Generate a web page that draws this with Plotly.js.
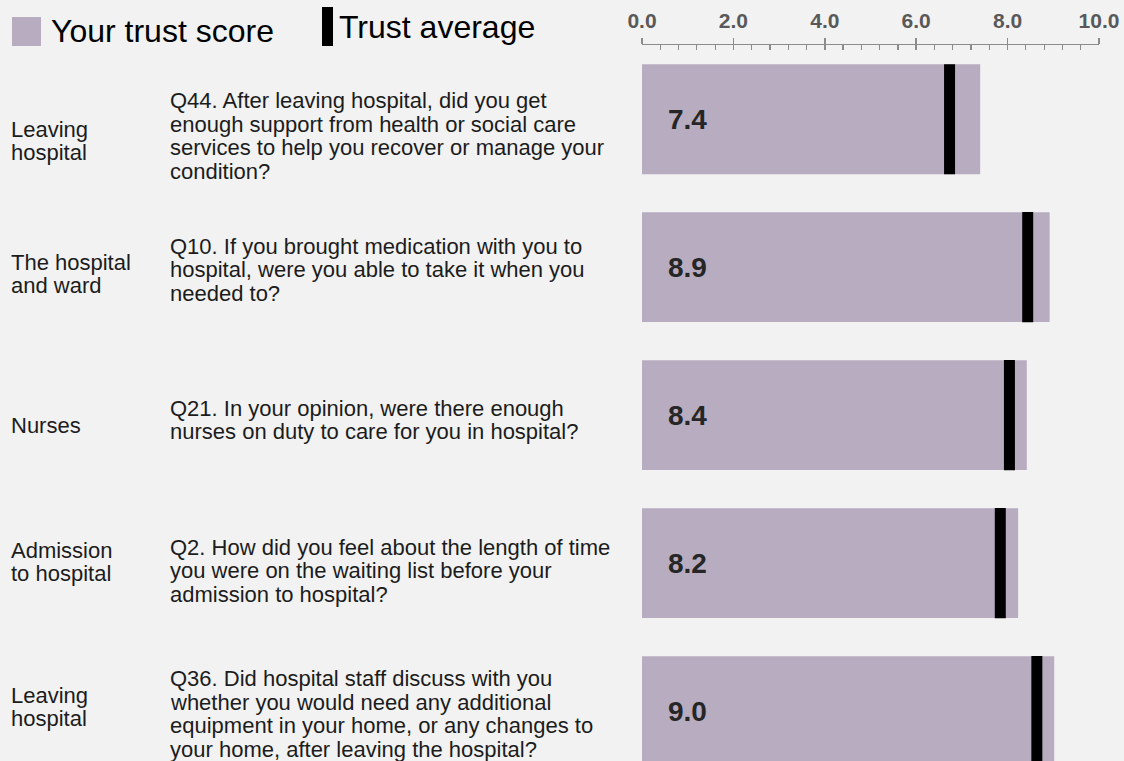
<!DOCTYPE html>
<html>
<head>
<meta charset="utf-8">
<script src="https://cdn.plot.ly/plotly-3.0.1.min.js"></script>
<style>
  html, body { margin: 0; padding: 0; background: #f2f2f2; }
  #chart { width: 1124px; height: 761px; }
</style>
</head>
<body>
<div id="chart"></div>
<script>
// ---- data ----
const sections = ["Leaving|hospital", "The hospital|and ward", "Nurses", "Admission|to hospital", "Leaving|hospital"];
const questions = [
  "Q44. After leaving hospital, did you get|enough support from health or social care|services to help you recover or manage your|condition?",
  "Q10. If you brought medication with you to|hospital, were you able to take it when you|needed to?",
  "Q21. In your opinion, were there enough|nurses on duty to care for you in hospital?",
  "Q2. How did you feel about the length of time|you were on the waiting list before your|admission to hospital?",
  "Q36. Did hospital staff discuss with you|whether you would need any additional|equipment in your home, or any changes to|your home, after leaving the hospital?"
];
const trustScores = [7.40, 8.92, 8.42, 8.23, 9.02];
const trustAverages = [6.73, 8.44, 8.04, 7.84, 8.64];
const tickValues = [0, 2, 4, 6, 8, 10];
const legendLabels = ["Your trust score", "Trust average"];

// ---- layout constants ----
const W = 1124, H = 761;
const M = { l: 642, r: 25, t: 45, b: 0 };
const plotW = W - M.l - M.r, plotH = H - M.t - M.b;
const xp = px => (px - M.l) / plotW;
const yp = py => (H - M.b - py) / plotH;
const barColor = "#b8acc1";
const textColor = "#1c1c1c";
const FONT = "Liberation Sans, Arial, sans-serif";
const qLineH = 23.5, sLineH = 23;
const questionShift = [17, 2.5, 5, 7.5, 3];
const sectionShift = [22, 7, 10, -1.5, -4];

const rows = trustScores.map((_, i) => i);

const traces = [
  {
    type: "bar", orientation: "h",
    y: rows, x: trustScores,
    width: 0.743,
    marker: { color: barColor, line: { width: 0 } },
    hoverinfo: "skip", showlegend: false
  },
  {
    type: "scatter", mode: "markers",
    y: rows, x: trustAverages,
    marker: { symbol: "line-ns", size: 78.6, color: "#000", line: { color: "#000", width: 11 } },
    hoverinfo: "skip", showlegend: false, cliponaxis: true
  },
  {
    type: "scatter", mode: "markers", x: [], y: [], xaxis: "x2", showlegend: false
  }
];

const annotations = [];
// value labels
trustScores.forEach((v, i) => {
  annotations.push({
    xref: "x", yref: "y", x: 0, y: i, xanchor: "left", yanchor: "middle",
    xshift: 24, text: "<b>" + v.toFixed(1) + "</b>", showarrow: false,
    font: { family: FONT, size: 28, color: "#262626" }
  });
});
// section labels and questions (one annotation per line)
function addLines(str, i, xPx, shift, lh) {
  const lines = str.split("|");
  const n = lines.length;
  lines.forEach((ln, k) => {
    annotations.push({
      xref: "paper", yref: "y", x: xp(xPx), y: i, xanchor: "left", yanchor: "middle",
      yshift: -((k - (n - 1) / 2) * lh + shift),
      text: ln, showarrow: false,
      font: { family: FONT, size: 22, color: textColor }
    });
  });
}
sections.forEach((s, i) => addLines(s, i, 9, sectionShift[i], sLineH));
questions.forEach((q, i) => addLines(q, i, 168, questionShift[i], qLineH));

// legend texts
annotations.push({
  xref: "paper", yref: "paper", x: xp(49), y: yp(31), xanchor: "left", yanchor: "middle",
  text: legendLabels[0], showarrow: false,
  font: { family: FONT, size: 32, color: "#000" }
});
annotations.push({
  xref: "paper", yref: "paper", x: xp(337), y: yp(27), xanchor: "left", yanchor: "middle",
  text: legendLabels[1], showarrow: false,
  font: { family: FONT, size: 32, color: "#000" }
});

const shapes = [
  { type: "rect", xref: "paper", yref: "paper", x0: xp(12), x1: xp(41), y0: yp(46), y1: yp(17),
    fillcolor: barColor, line: { width: 0 } },
  { type: "rect", xref: "paper", yref: "paper", x0: xp(322), x1: xp(333), y0: yp(46), y1: yp(7),
    fillcolor: "#000", line: { width: 0 } }
];

const axisFont = { family: FONT, size: 21, color: "#595959", weight: "bold" };

const layout = {
  width: W, height: H,
  margin: M,
  paper_bgcolor: "#f2f2f2", plot_bgcolor: "#f2f2f2",
  showlegend: false,
  xaxis: {
    side: "top", range: [0, 10], tickvals: tickValues,
    ticktext: tickValues.map(v => "<b>" + v.toFixed(1) + "</b>"),
    ticks: "inside", ticklen: 5, tickwidth: 1.5, tickcolor: "#8c8c8c",
    showline: true, linecolor: "#8c8c8c", linewidth: 1.5,
    showgrid: false, zeroline: false,
    tickfont: axisFont, ticklabelstandoff: 7,
    minor: { dtick: 0.4, ticks: "inside", ticklen: 5, tickwidth: 1.2, tickcolor: "#8c8c8c", showgrid: false },
    fixedrange: true
  },
  xaxis2: {
    overlaying: "x", side: "top", range: [0, 10], tickvals: tickValues,
    showticklabels: false, ticks: "outside", ticklen: 6, tickwidth: 1.5, tickcolor: "#8c8c8c",
    showline: false, showgrid: false, zeroline: false, fixedrange: true
  },
  yaxis: {
    range: [4.337, -0.501], visible: false, showgrid: false, zeroline: false, fixedrange: true
  },
  annotations: annotations,
  shapes: shapes
};

Plotly.newPlot("chart", traces, layout, { displayModeBar: false, staticPlot: true });
</script>
</body>
</html>
